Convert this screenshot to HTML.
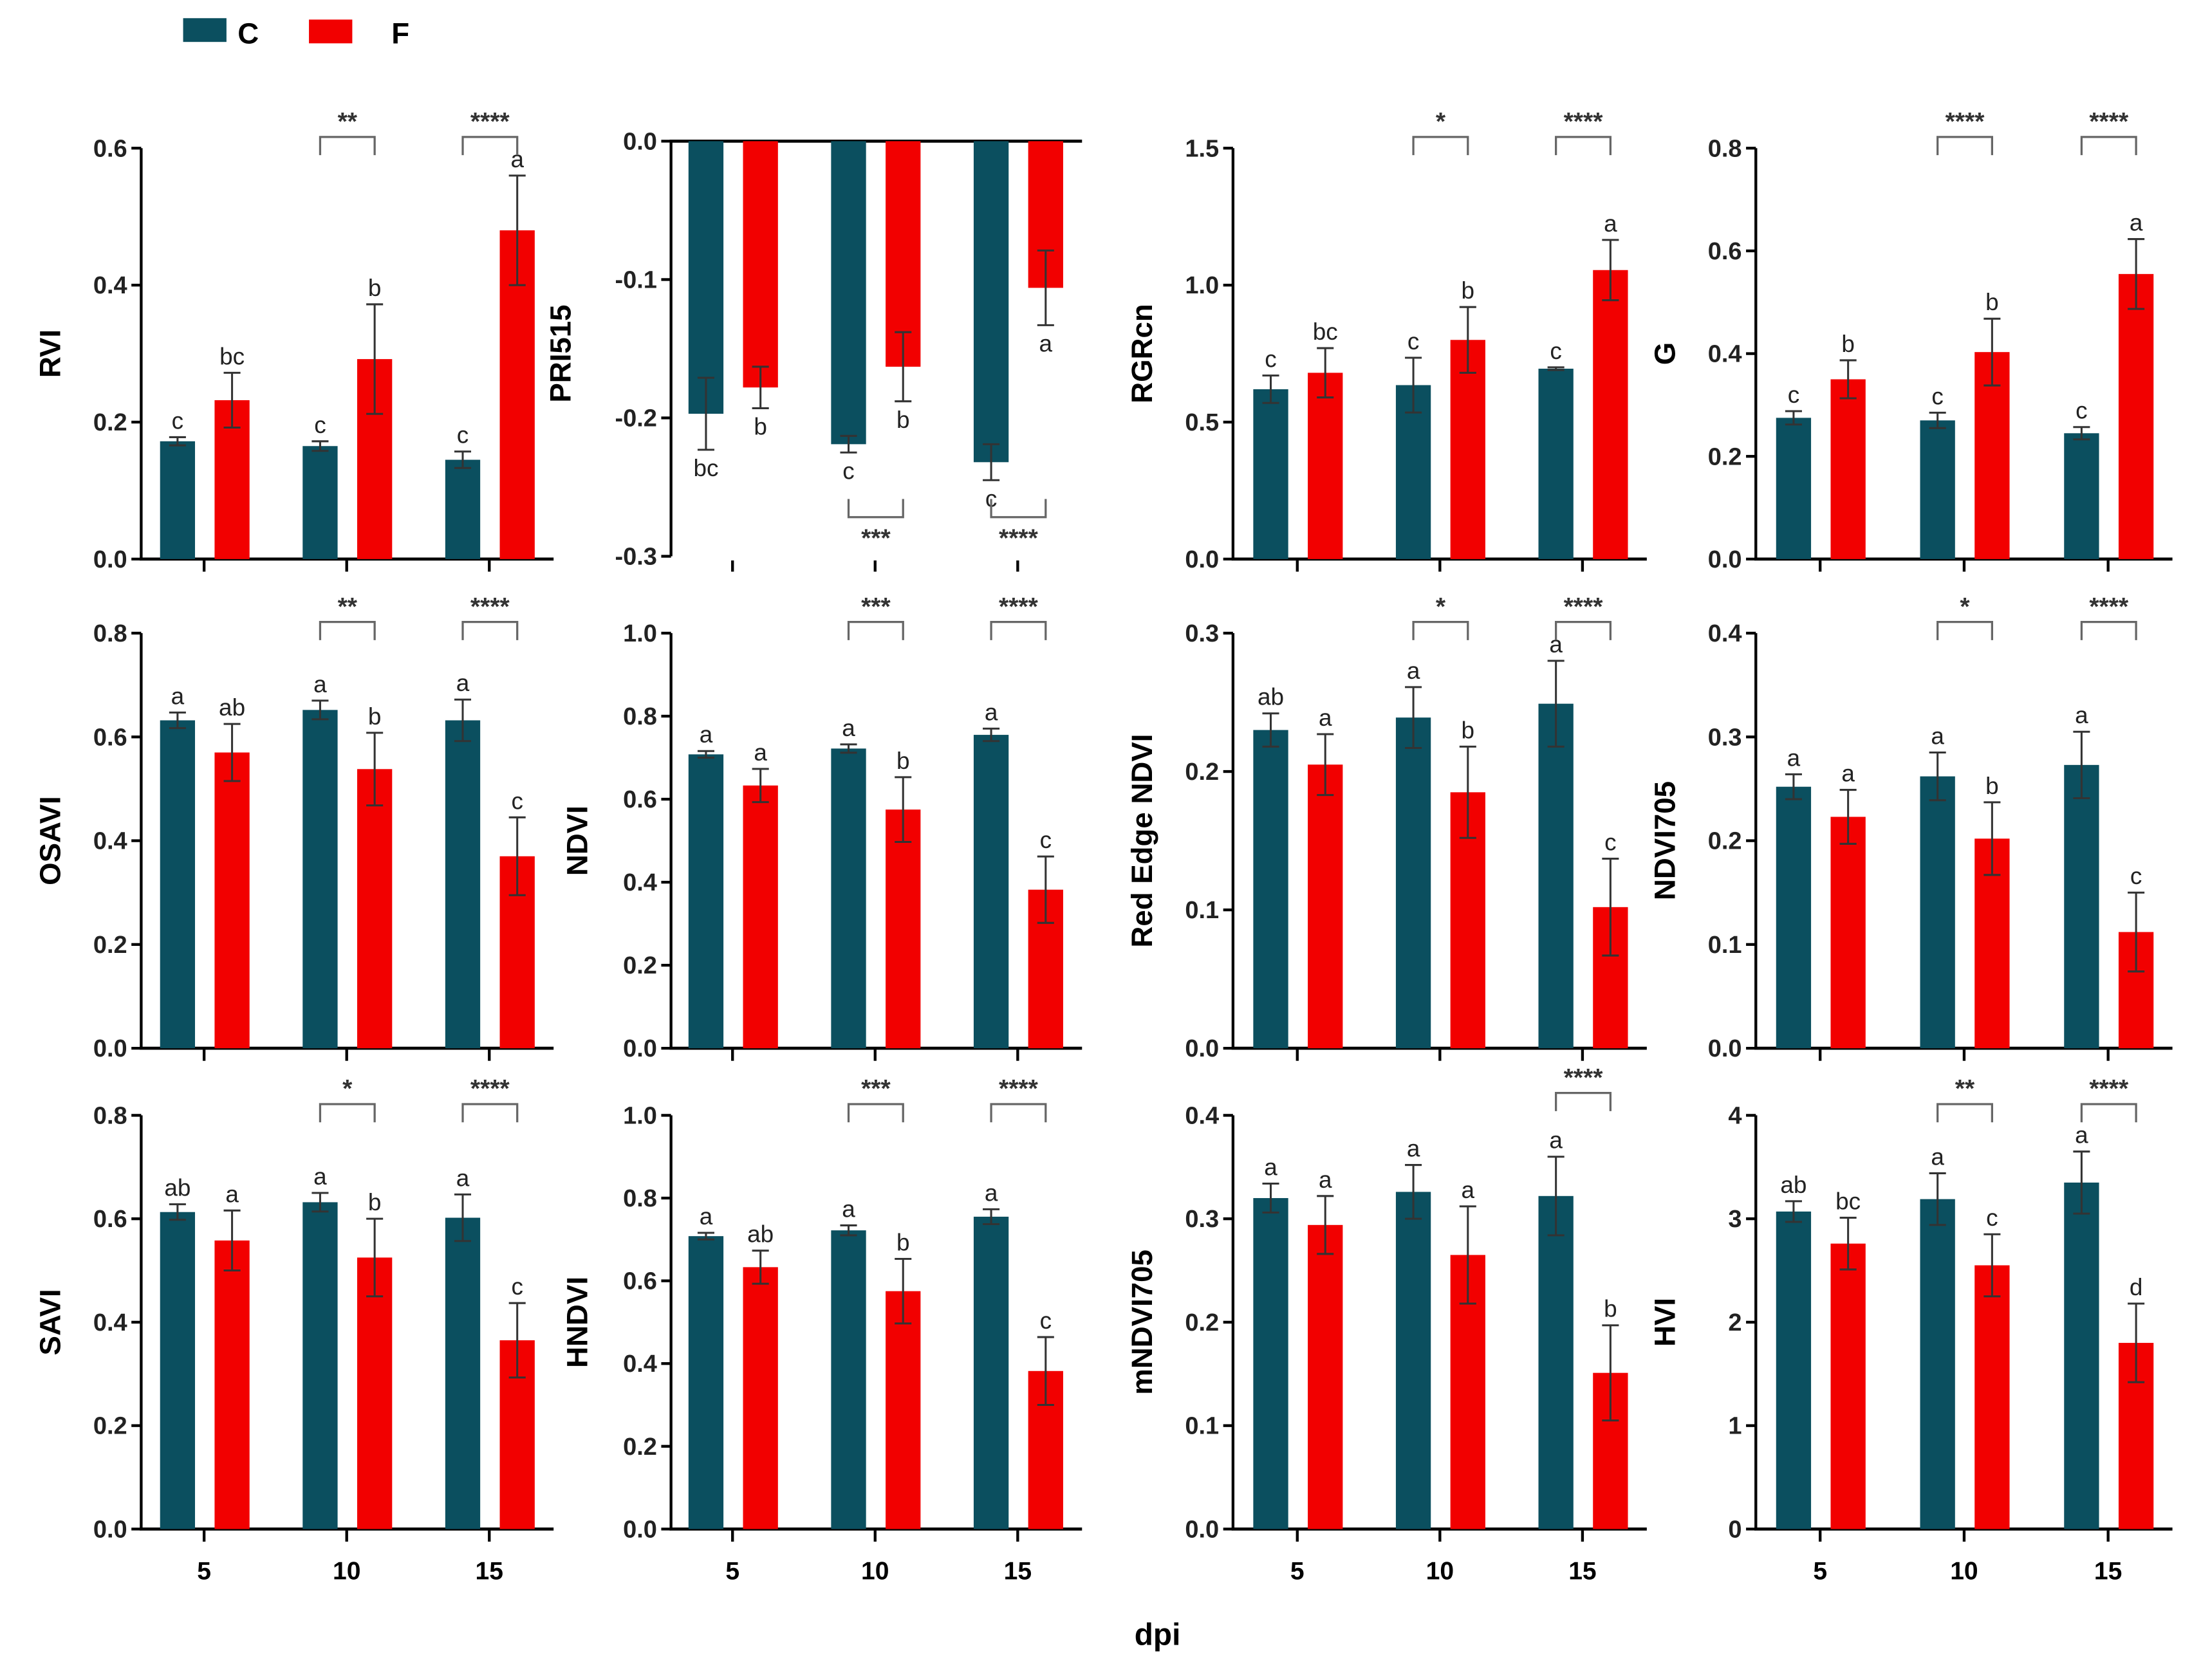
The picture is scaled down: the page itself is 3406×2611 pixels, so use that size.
<!DOCTYPE html>
<html><head><meta charset="utf-8"><style>
html,body{margin:0;padding:0;background:#fff;}
svg{display:block;font-family:"Liberation Sans",Arial,sans-serif;}
</style></head><body>
<svg id="fig" width="3406" height="2611" viewBox="0 0 1568 1202" xmlns="http://www.w3.org/2000/svg">
<g>
<rect x="131" y="13" width="31" height="17" fill="#0b4f5f"/>
<text x="170" y="31" font-size="21" font-weight="bold">C</text>
<rect x="221" y="14" width="31" height="17" fill="#f20000"/>
<text x="280" y="31" font-size="21" font-weight="bold">F</text>
</g>
<text x="828" y="1177" font-size="22" font-weight="bold" text-anchor="middle">dpi</text>
</svg>
<script>
const categories = ["5","10","15"];
const names = ["RVI","PRI515","RGRcn","G","OSAVI","NDVI","Red Edge NDVI","NDVI705","SAVI","HNDVI","mNDVI705","HVI"];
const cVals = [[0.172,0.165,0.145],[-0.197,-0.219,-0.232],[0.62,0.635,0.695],[0.275,0.27,0.245],[0.632,0.652,0.632],[0.708,0.722,0.755],[0.23,0.239,0.249],[0.252,0.262,0.273],[0.613,0.632,0.602],[0.708,0.722,0.755],[0.32,0.326,0.322],[3.07,3.19,3.35]];
const cErr = [[0.006,0.007,0.012],[0.026,0.006,0.013],[0.05,0.1,0.005],[0.013,0.015,0.012],[0.015,0.018,0.04],[0.008,0.01,0.015],[0.012,0.022,0.031],[0.012,0.023,0.032],[0.015,0.018,0.045],[0.008,0.012,0.018],[0.014,0.026,0.038],[0.1,0.25,0.3]];
const fVals = [[0.232,0.292,0.48],[-0.178,-0.163,-0.106],[0.68,0.8,1.055],[0.35,0.403,0.555],[0.57,0.538,0.37],[0.633,0.575,0.382],[0.205,0.185,0.102],[0.223,0.202,0.112],[0.558,0.525,0.365],[0.633,0.575,0.382],[0.294,0.265,0.151],[2.76,2.55,1.8]];
const fErr = [[0.04,0.08,0.08],[0.015,0.025,0.027],[0.09,0.12,0.11],[0.037,0.065,0.068],[0.055,0.07,0.075],[0.04,0.078,0.08],[0.022,0.033,0.035],[0.026,0.035,0.038],[0.058,0.075,0.072],[0.04,0.078,0.082],[0.028,0.047,0.046],[0.25,0.3,0.38]];
const cLetters = [["c","c","c"],["bc","c","c"],["c","c","c"],["c","c","c"],["a","a","a"],["a","a","a"],["ab","a","a"],["a","a","a"],["ab","a","a"],["a","a","a"],["a","a","a"],["ab","a","a"]];
const fLetters = [["bc","b","a"],["b","b","a"],["bc","b","a"],["b","b","a"],["ab","b","c"],["a","b","c"],["a","b","c"],["a","b","c"],["a","b","c"],["ab","b","c"],["a","a","b"],["bc","c","d"]];
const sigMarks = [["","**","****"],["","***","****"],["","*","****"],["","****","****"],["","**","****"],["","***","****"],["","*","****"],["","*","****"],["","*","****"],["","***","****"],["","","****"],["","**","****"]];
const yTicks = [[0,0.2,0.4,0.6],[0,-0.1,-0.2,-0.3],[0,0.5,1.0,1.5],[0,0.2,0.4,0.6,0.8],[0,0.2,0.4,0.6,0.8],[0,0.2,0.4,0.6,0.8,1.0],[0,0.1,0.2,0.3],[0,0.1,0.2,0.3,0.4],[0,0.2,0.4,0.6,0.8],[0,0.2,0.4,0.6,0.8,1.0],[0,0.1,0.2,0.3,0.4],[0,1,2,3,4]];
const tickDecimals = [1,1,1,1,1,1,1,1,1,1,1,0];

const NS="http://www.w3.org/2000/svg";
const svg=document.getElementById('fig');
const axisX=[101,480,882,1256];
const groupX=[[146,248,350],[524,626,728],[928,1030,1132],[1302,1405,1508]];
const rowY=[[400,106],[750,453],[1094,798]];
function mk(tag,attrs,parent){const e=document.createElementNS(NS,tag);for(const k in attrs)e.setAttribute(k,attrs[k]);(parent||svg).appendChild(e);return e;}

for(let p=0;p<12;p++){
  const row=Math.floor(p/4), col=p%4;
  const ticks=yTicks[p];
  const lo=Math.min(...ticks), hi=Math.max(...ticks);
  const neg = hi===0;
  const y0=rowY[row][0], y1=rowY[row][1];
  const yScale = v => neg ? (rowY[row][1]-5) + (0 - v)/(0-lo)*((y0-2)-(rowY[row][1]-5)) : y0 + (v-lo)/(hi-lo)*(y1-y0);
  const ax=axisX[col];
  const gx=groupX[col];
  const xScale = i => gx[i];
  const g=mk('g',{});
  
  
  const yl=mk('line',{x1:ax,y1:Math.min(yScale(hi),yScale(lo)),x2:ax,y2:Math.max(yScale(hi),yScale(lo)),stroke:'#000','stroke-width':2},g);
  
  
  const zeroY=yScale(0);
  const xl=mk('line',{x1:ax-1,y1:zeroY,x2:gx[2]+46,y2:zeroY,stroke:'#000','stroke-width':2.2},g);
  
  
  ticks.forEach(t=>{
    const y=yScale(t);
    mk('line',{x1:ax-7,y1:y,x2:ax,y2:y,stroke:'#000','stroke-width':2},g);
    const tl=mk('text',{x:ax-10,y:y+6,'font-size':17.5,'font-weight':'bold','text-anchor':'end',fill:'#222'},g);
    tl.textContent=t.toFixed(tickDecimals[p]);
    
    
  });
  const off = col===1 ? (neg?72:60) : 58;
  const tt=mk('text',{transform:`translate(${ax-off},${(y0+y1)/2}) rotate(-90)`,'font-size':21,'font-weight':'bold','text-anchor':'middle'},g);
  tt.textContent=names[p];
  
  
  const tickBase = neg ? y0 : zeroY;
  for(let i=0;i<3;i++){
    const cx=xScale(i);
    mk('line',{x1:cx,y1:tickBase+1,x2:cx,y2:tickBase+9,stroke:'#000','stroke-width':2},g);
    if(row===2){
      const xt=mk('text',{x:cx,y:1130,'font-size':18,'font-weight':'bold','text-anchor':'middle'},g);
      xt.textContent=categories[i];
      
      
    }
    [[cVals,cErr,cLetters,'#0b4f5f',-19,'c'],[fVals,fErr,fLetters,'#f20000',20,'f']].forEach(s=>{
      const v=s[0][p][i], e=s[1][p][i];
      const bx=cx+s[4];
      const yv=yScale(v);
      const r=mk('rect',{x:bx-12.5,y:Math.min(yv,zeroY),width:25,height:Math.abs(zeroY-yv),fill:s[3]},g);
      
      
      const ya=yScale(v+e), yb=yScale(v-e);
      const eb=mk('path',{d:`M${bx},${ya}V${yb}M${bx-6},${ya}H${bx+6}M${bx-6},${yb}H${bx+6}`,stroke:'#333','stroke-width':1.4,fill:'none'},g);
      
      
      const lt=mk('text',{x:bx,y:neg?Math.max(ya,yb)+19:Math.min(ya,yb)-6,'font-size':17,'text-anchor':'middle',fill:'#222'},g);
      lt.textContent=s[2][p][i];
      
      
    });
    const sm=sigMarks[p][i];
    if(sm){
      const a=cx-19,b=cx+20;
      let d,sy;
      if(neg){const by=y0-30; d=`M${a},${by-13}V${by}H${b}V${by-13}`; sy=by+21;}
      else{let by=y1-8; if(p===10) by=y1-16; d=`M${a},${by+13}V${by}H${b}V${by+13}`; sy=by-5;}
      const br=mk('path',{d:d,stroke:'#666','stroke-width':1.5,fill:'none'},g);
      
      
      const st=mk('text',{x:(a+b)/2,y:sy,'font-size':18,'font-weight':'bold','text-anchor':'middle',fill:'#333'},g);
      st.textContent=sm;
      
      
    }
  }
}
</script>
</body></html>
